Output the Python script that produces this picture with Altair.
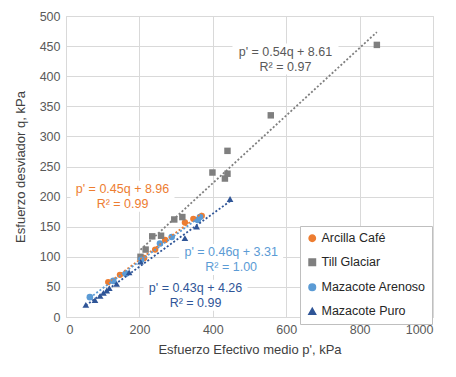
import altair as alt
import pandas as pd

# ---- data ----
series_names = ["Arcilla Café", "Till Glaciar", "Mazacote Arenoso", "Mazacote Puro"]
series_colors = ["#ED7D31", "#7F7F7F", "#5B9BD5", "#2F5597"]
label_colors = ["#ED7D31", "#595959", "#5B9BD5", "#2F5597"]
series_shapes = ["circle", "square", "circle", "triangle-up"]
series_sizes = [40, 45, 40, 60]

cafe_p = [115, 147, 213, 243, 270, 324, 347, 370]
cafe_q = [58, 70, 98, 112, 128, 157, 163, 168]

till_p = [203, 217, 235, 259, 295, 317, 399, 433, 440, 440, 558, 847]
till_q = [100, 112, 134, 135, 162, 166, 240, 230, 238, 276, 335, 452]

arenoso_p = [65, 129, 163, 205, 256, 288, 359, 365]
arenoso_q = [33, 60, 72, 95, 122, 133, 161, 166]

puro_p = [54, 79, 93, 102, 111, 118, 138, 172, 203, 324, 356, 447]
puro_q = [20, 28, 35, 40, 44, 48, 55, 74, 92, 131, 150, 196]

eq_lines = ["p' = 0.45q + 8.96", "p' = 0.54q + 8.61", "p' = 0.46q + 3.31", "p' = 0.43q + 4.26"]
r2_lines = ["R² = 0.99", "R² = 0.97", "R² = 1.00", "R² = 0.99"]
label_x = [154, 598, 450, 353]
label_eq_y = [213, 441, 108, 48]
label_r2_y = [188, 416, 83, 24]

x_ticks = [0, 200, 400, 600, 800, 1000]
y_ticks = [0, 50, 100, 150, 200, 250, 300, 350, 400, 450, 500]

x_title = "Esfuerzo Efectivo medio p', kPa"
y_title = "Esfuerzo desviador q, kPa"

rows = []
for name, ps, qs in zip(series_names, [cafe_p, till_p, arenoso_p, puro_p], [cafe_q, till_q, arenoso_q, puro_q]):
    for p, q in zip(ps, qs):
        rows.append({"serie": name, "p": p, "q": q})
df = pd.DataFrame(rows)

labels = []
boxes = []
for name, tc, e, r, lx, ey, ry in zip(series_names, label_colors, eq_lines, r2_lines, label_x, label_eq_y, label_r2_y):
    labels.append({"serie": name, "tc": tc, "txt": e, "p": lx, "q": ey})
    labels.append({"serie": name, "tc": tc, "txt": r, "p": lx, "q": ry})
    boxes.append({"serie": name, "p": lx, "q": (ey + ry) / 2})
lab = pd.DataFrame(labels)
box = pd.DataFrame(boxes)

color_scale = alt.Scale(domain=series_names, range=series_colors)
shape_scale = alt.Scale(domain=series_names, range=series_shapes)
size_scale = alt.Scale(domain=series_names, range=series_sizes)

xs = alt.Scale(domain=[0, 1000], nice=False)
ys = alt.Scale(domain=[0, 500], nice=False)

X = alt.X("p:Q", scale=xs, title=x_title,
          axis=alt.Axis(values=x_ticks, format="d"))
Y = alt.Y("q:Q", scale=ys, title=y_title,
          axis=alt.Axis(values=y_ticks, format="d", labelOverlap=False))

base = alt.Chart(df)

box_layers = []
for name, w in zip(series_names, [104, 106, 104, 104]):
    box_layers.append(
        alt.Chart(box).transform_filter(alt.datum.serie == name)
        .mark_rect(width=w, height=31, color="white")
        .encode(x=X, y=Y)
    )

points = base.mark_point(filled=True, opacity=1).encode(
    x=X,
    y=Y,
    color=alt.Color("serie:N", scale=color_scale, title=None,
                    legend=alt.Legend(orient="none", legendX=234, legendY=210,
                                      fillColor="white", strokeColor="#BFBFBF",
                                      padding=6, rowPadding=11, symbolSize=30,
                                      labelFontSize=12.5, labelColor="#262626",
                                      labelFont="Liberation Sans", labelOffset=3)),
    shape=alt.Shape("serie:N", scale=shape_scale, title=None),
    size=alt.Size("serie:N", scale=size_scale, legend=None),
)

trend = base.transform_regression("p", "q", groupby=["serie"]).mark_line(
    strokeDash=[2, 2], strokeWidth=1.8
).encode(
    x=X,
    y=Y,
    color=alt.Color("serie:N", scale=color_scale, legend=None),
)

texts = alt.Chart(lab).mark_text(fontSize=12.5, font="Liberation Sans").encode(
    x=X,
    y=Y,
    text="txt:N",
    color=alt.Color("tc:N", scale=None),
)

chart = alt.layer(*box_layers, points, trend, texts).properties(
    width=367, height=301,
    autosize=alt.AutoSizeParams(type="none"),
    padding={"left": 58, "top": 8, "right": 15, "bottom": 45},
).configure_view(
    stroke="#D9D9D9", strokeWidth=1
).configure_axis(
    grid=True, gridColor="#D9D9D9", domain=False, ticks=False,
    labelFont="Liberation Sans", labelFontSize=12.5, labelColor="#595959",
    titleFont="Liberation Sans", titleFontSize=13, titleColor="#404040",
    titleFontWeight="normal", labelPadding=6,
).configure_axisX(titlePadding=8).configure_axisY(titlePadding=12)

chart.save("out.html", embed_options={"renderer": "svg", "actions": False})
